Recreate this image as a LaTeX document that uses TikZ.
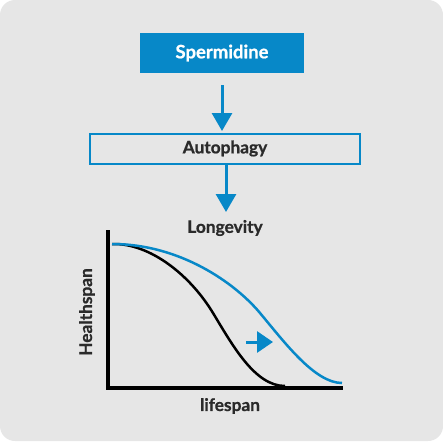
\documentclass[tikz,border=0pt]{standalone}
\usepackage{fontspec}
\setmainfont{Lato}[BoldFeatures={FakeBold=0.8}]
\usetikzlibrary{arrows.meta}
\definecolor{bg}{HTML}{E6E6E6}
\definecolor{sblue}{HTML}{0788C8}
\definecolor{dtext}{HTML}{2A2A2A}
\tikzset{
  lbl/.style={font=\bfseries\fontsize{17.3}{20}\selectfont, text=dtext, inner sep=0pt},
  flow/.style={draw=sblue, line width=3pt, -{Triangle[width=20pt,length=18pt]}},
  axis/.style={line width=3.5pt, black},
}
\begin{document}
\begin{tikzpicture}[x=1pt,y=-1pt]
\useasboundingbox (0,0) rectangle (443,441);
\fill[white] (0,0) rectangle (443,441);
\fill[bg, rounded corners=15pt] (0,0) rectangle (443,441);
% boxes
\node[fill=sblue, minimum width=164pt, minimum height=40pt, inner sep=0pt, text=white, font=\bfseries\fontsize{18.5}{22}\selectfont] (sp) at (222,53) {Spermidine};
\node[draw=sblue, line width=2pt, minimum width=270pt, minimum height=30pt, inner sep=0pt, lbl] (au) at (225,148.5) {Autophagy};
\coordinate (a1s) at (222,85);
\coordinate (a1e) at (222,131);
\draw[flow] (a1s) -- (a1e);
\coordinate (a2s) at (226,164);
\coordinate (a2e) at (226,212);
\draw[flow] (a2s) -- (a2e);
\node[lbl] (lo) at (225,228) {Longevity};
% axes
\coordinate (o) at (108,388);
\coordinate (ytop) at (108,230);
\coordinate (xend) at (343,388);
\draw[axis] (ytop) -- (o) -- (xend);
\node[lbl, rotate=90] (hs) at (87,312) {Healthspan};
\node[lbl] (ls) at (230,406) {lifespan};
% curves
\coordinate (c0) at (112,244);
\draw[black, line width=2.5pt] (c0) .. controls (150,243) and (190,275) .. (213,313) .. controls (233,346) and (255,386) .. (285,386);
\draw[sblue, line width=2.5pt] (c0) .. controls (180,244) and (235,283) .. (260,313) .. controls (285,343) and (315,383) .. (342,383);
% small arrow
\coordinate (sa1) at (246,342);
\coordinate (sa2) at (273,342);
\draw[sblue, line width=3pt, -{Triangle[width=21pt,length=16pt]}] (sa1) -- (sa2);
\end{tikzpicture}
\end{document}
